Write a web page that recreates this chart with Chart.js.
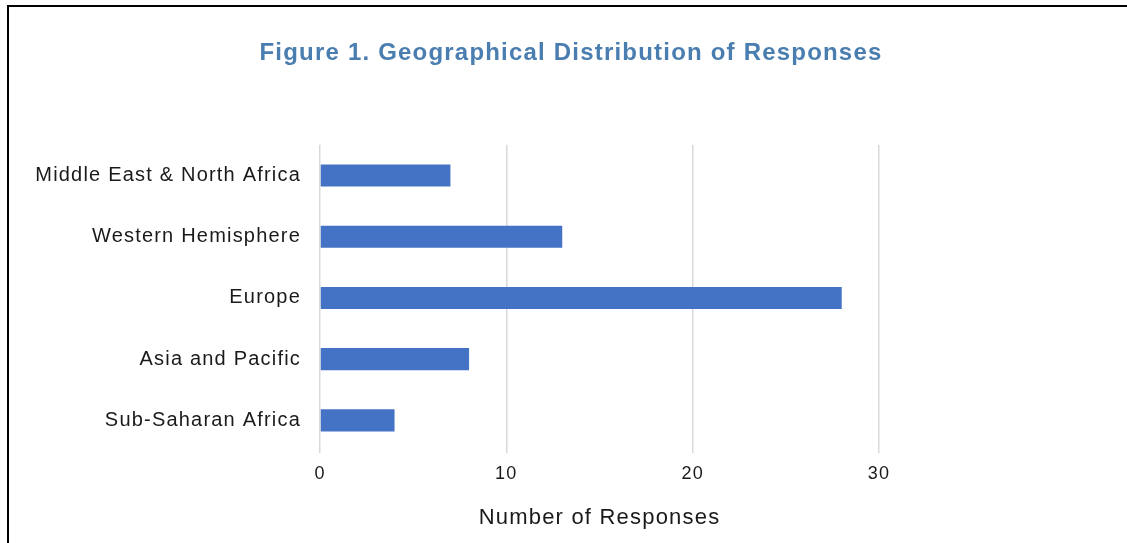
<!DOCTYPE html>
<html>
<head>
<meta charset="utf-8">
<script src="https://cdn.jsdelivr.net/npm/chart.js@4/dist/chart.umd.min.js"></script>
<style>
  html, body { margin: 0; padding: 0; background: #fff; }
  .frame {
    position: absolute;
    left: 7px;
    top: 5px;
    width: 1120px;
    height: 538px;
    border-top: 2px solid #000;
    border-left: 2px solid #000;
    box-sizing: border-box;
  }
</style>
</head>
<body>
<div class="frame"><canvas id="chart" width="1118" height="536"></canvas></div>
<script>
const regions = [
  "Middle East & North Africa",
  "Western Hemisphere",
  "Europe",
  "Asia and Pacific",
  "Sub-Saharan Africa",
];
const responses = [7, 13, 28, 8, 4];
const xTicks = [0, 10, 20, 30];

// the source was rendered with loose glyph spacing
const spacing = {
  id: "spacing",
  beforeDraw(chart) {
    chart.ctx.letterSpacing = "1.2px";
  },
};

const font = "'Liberation Sans', Arial, sans-serif";
const ctx = document.getElementById("chart").getContext("2d");

new Chart(ctx, {
  type: "bar",
  data: {
    labels: regions,
    datasets: [
      {
        data: responses,
        backgroundColor: "#4472c4",
        barPercentage: 0.36,
        categoryPercentage: 1,
      },
    ],
  },
  options: {
    indexAxis: "y",
    responsive: false,
    animation: false,
    devicePixelRatio: 1,
    layout: { padding: { left: 6, right: 0, top: 0, bottom: 0 } },
    plugins: {
      legend: { display: false },
      tooltip: { enabled: false },
      title: {
        display: true,
        text: "Figure 1. Geographical Distribution of Responses",
        color: "#4a7db0",
        font: { family: font, size: 24, weight: "bold" },
        padding: { top: 32, bottom: 77 },
      },
    },
    scales: {
      x: {
        min: 0,
        max: 30,
        afterBuildTicks(scale) {
          scale.ticks = xTicks.map((v) => ({ value: v }));
        },
        afterFit(scale) {
          scale.height = 92;
        },
        grid: { color: "#d9d9d9", lineWidth: 1.5, tickLength: 2 },
        border: { display: false },
        ticks: {
          color: "#1a1a1a",
          padding: 10,
          font: { family: font, size: 18 },
        },
        title: {
          display: true,
          text: "Number of Responses",
          color: "#1a1a1a",
          font: { family: font, size: 22 },
          padding: { top: 0, bottom: 12 },
        },
      },
      y: {
        afterFit(scale) {
          scale.width = 305;
        },
        grid: { display: false, drawTicks: false },
        border: { display: false },
        ticks: {
          color: "#1a1a1a",
          padding: 19,
          font: { family: font, size: 20 },
        },
      },
      spacer: {
        type: "category",
        axis: "y",
        position: "right",
        afterFit(scale) {
          scale.width = 248;
        },
        grid: { display: false, drawTicks: false },
        border: { display: false },
        ticks: { display: false },
      },
    },
  },
  plugins: [spacing],
});
</script>
</body>
</html>
